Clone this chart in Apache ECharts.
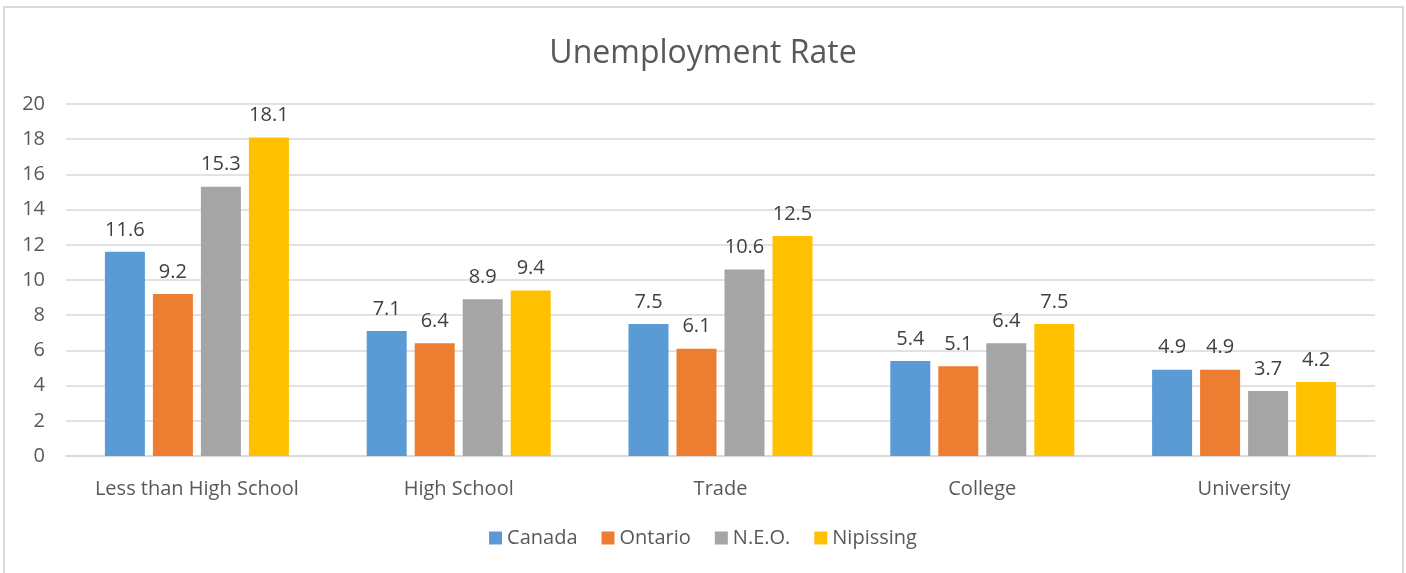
<!DOCTYPE html>
<html><head><meta charset="utf-8">
<script src="https://cdn.jsdelivr.net/npm/echarts@6/dist/echarts.min.js"></script>
<style>html,body{margin:0;padding:0;background:#fff}#c{width:1406px;height:573px}</style>
</head><body><div id="c"></div>
<script>
const categories = ['Less than High School','High School','Trade','College','University'];
const canada = [11.6, 7.1, 7.5, 5.4, 4.9];
const ontario = [9.2, 6.4, 6.1, 5.1, 4.9];
const neo = [15.3, 8.9, 10.6, 6.4, 3.7];
const nipissing = [18.1, 9.4, 12.5, 7.5, 4.2];
const seriesNames = ['Canada','Ontario','N.E.O.','Nipissing'];
const colors = ['#5B9BD5','#ED7D31','#A5A5A5','#FFC000'];
const FONT = '"Open Sans"';
const chart = echarts.init(document.getElementById('c'));
const mk = (name, data, i) => ({
  name, type: 'bar', data, barWidth: 40, barGap: '20%',
  itemStyle: {color: colors[i]},
  label: {show: true, position: 'top', distance: 12, color: '#404040', fontSize: 20, fontFamily: FONT,
    formatter: p => p.value.toFixed(1)}
});
chart.setOption({
  animation: false,
  textStyle: {fontFamily: FONT},
  graphic: [{type: 'rect', shape: {x: 4, y: 7, width: 1399, height: 580},
    style: {fill: 'none', stroke: '#d9d9d9', lineWidth: 2}}],
  title: {text: 'Unemployment Rate', left: 'center', top: 33,
    textStyle: {fontSize: 32, fontWeight: 'normal', color: '#595959', fontFamily: FONT}},
  legend: {top: 523, left: 'center', itemWidth: 13, itemHeight: 13, itemGap: 24,
    icon: 'rect', textStyle: {fontSize: 20, color: '#595959', fontFamily: FONT},
    data: seriesNames},
  grid: {left: 66, right: 31, top: 104, bottom: 117, containLabel: false},
  xAxis: {type: 'category', data: categories,
    axisLine: {lineStyle: {color: '#d9d9d9', width: 1.5}}, axisTick: {show: false},
    axisLabel: {interval: 0, fontSize: 20, color: '#595959', margin: 23, fontFamily: FONT}},
  yAxis: {type: 'value', min: 0, max: 20, interval: 2,
    axisLine: {show: false}, axisTick: {show: false},
    splitLine: {lineStyle: {color: '#d9d9d9', width: 1.5}},
    axisLabel: {fontSize: 20, color: '#595959', margin: 21, fontFamily: FONT}},
  series: [mk(seriesNames[0], canada, 0), mk(seriesNames[1], ontario, 1),
           mk(seriesNames[2], neo, 2), mk(seriesNames[3], nipissing, 3)]
});
</script></body></html>
